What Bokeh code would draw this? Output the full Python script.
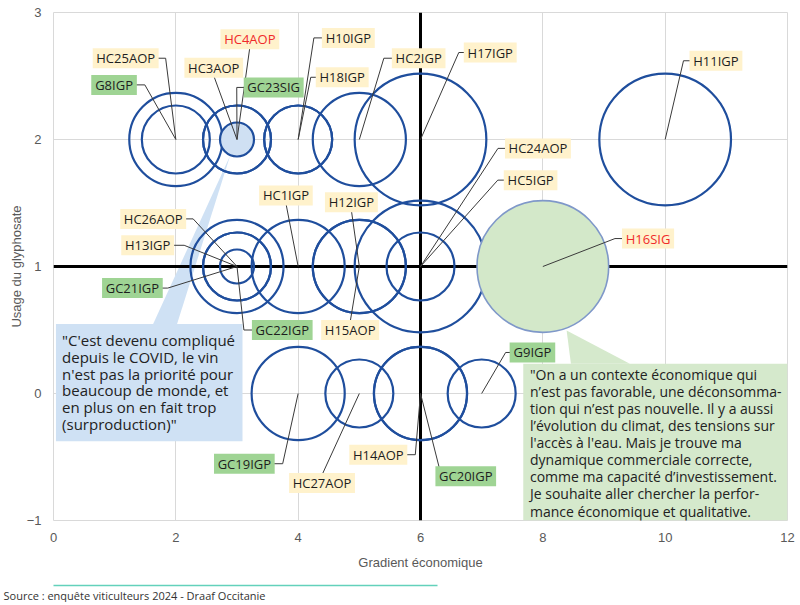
import math
from bokeh.plotting import figure
from bokeh.models import FixedTicker, ColumnDataSource, Range1d, LinearAxis, Title
from bokeh.core.properties import value
from bokeh.embed import file_html
from bokeh.resources import INLINE

# ---------------- data ----------------
names = ["HC25AOP", "G8IGP", "HC3AOP", "HC4AOP", "GC23SIG", "H10IGP", "H18IGP", "HC2IGP", "H17IGP", "H11IGP",
         "HC26AOP", "H13IGP", "GC21IGP", "GC22IGP", "HC1IGP", "H12IGP", "H15AOP", "HC24AOP", "HC5IGP", "H16SIG",
         "GC19IGP", "HC27AOP", "H14AOP", "GC20IGP", "G9IGP"]
gradient = [2, 2, 3, 3, 3, 4, 4, 5, 6, 10,
            3, 3, 3, 3, 4, 5, 5, 6, 6, 8,
            4, 5, 6, 6, 7]
glyphosate = [2, 2, 2, 2, 2, 2, 2, 2, 2, 2,
              1, 1, 1, 1, 1, 1, 1, 1, 1, 1,
              0, 0, 0, 0, 0]
bubble = [7.5, 4, 4, 1, 4, 4, 4, 7.5, 15, 15,
          7.5, 4, 1, 4, 7.5, 7.5, 7.5, 15, 4, 15,
          7.5, 4, 7.5, 7.5, 4]
highlight_blue = ["HC4AOP"]
highlight_green = ["H16SIG"]
x_ticks = [0, 2, 4, 6, 8, 10, 12]
y_ticks = [-1, 0, 1, 2, 3]
cross_x, cross_y = 6, 1

# label layout (annotation positions, data coords) and leader style
label_x = [1.18, 0.99, 2.62, 3.21, 3.60, 4.82, 4.72, 5.97, 7.14, 10.83,
           1.63, 1.54, 1.29, 3.74, 3.80, 4.87, 4.85, 7.92, 7.80, 9.72,
           3.12, 4.39, 5.31, 6.74, 7.83]
label_y = [2.64, 2.43, 2.565, 2.79, 2.41, 2.80, 2.49, 2.64, 2.685, 2.62,
           1.375, 1.167, 0.83, 0.50, 1.56, 1.505, 0.50, 1.93, 1.68, 1.22,
           -0.553, -0.704, -0.482, -0.651, 0.323]
anchor = ["R", "R", "B", "B", "L", "L", "L", "L", "L", "L",
          "R", "R", "R", "L", "B", "B", "T", "L", "L", "L",
          "R", "T", "R", "T", "L"]
stub = [7, 8, 0, 0, 7, 8, 5, 8, 5, 6,
        7, 10, 5, 8, 0, 0, 0, 7, 6, 7,
        8, 0, 8, 0, 4]
frac = [0] * 25
frac[names.index("GC20IGP")] = -0.87

quote_blue = ("\"C'est devenu compliqué\ndepuis le COVID, le vin\nn'est pas la priorité pour\n"
              "beaucoup de monde, et\nen plus on en fait trop\n(surproduction)\"")
quote_green = ("\"On a un contexte économique  qui\nn’est pas favorable,  une déconsomma-\n"
               "tion qui n’est pas nouvelle.  Il y a aussi\nl’évolution du climat, des tensions  sur\n"
               "l'accès  à l'eau. Mais  je trouve ma\ndynamique commerciale correcte,\n"
               "comme ma capacité d’investissement.\nJe souhaite aller chercher la perfor-\n"
               "mance économique et qualitative.")
source_text = "Source : enquête viticulteurs 2024 - Draaf Occitanie"

# ---------------- layout ----------------
FW, FH = 734, 508
ML, MT, MR, MB = 53, 12, 12, 80
X0, X1, Y0, Y1 = 0, 12, -1, 3
sx = FW / (X1 - X0)
sy = FH / (Y1 - Y0)

p = figure(frame_width=FW, frame_height=FH, x_range=Range1d(X0, X1), y_range=Range1d(Y0, Y1),
           output_backend="svg", toolbar_location=None,
           min_border_left=ML, min_border_right=MR, min_border_top=MT, min_border_bottom=MB,
           background_fill_color="white", border_fill_color="white")
p.outline_line_color = "#d9d9d9"
p.grid.grid_line_color = "#d9d9d9"
p.xaxis.ticker = FixedTicker(ticks=x_ticks)
p.yaxis.ticker = FixedTicker(ticks=y_ticks)
for ax in (p.xaxis[0], p.yaxis[0]):
    ax.axis_line_color = None
    ax.major_tick_line_color = None
    ax.minor_tick_line_color = None
    ax.major_tick_out = 0
    ax.major_tick_in = 0
    ax.major_label_text_font = "Liberation Sans"
    ax.major_label_text_font_size = "13px"
    ax.major_label_text_color = "#595959"
    ax.axis_label_text_font = "Liberation Sans"
    ax.axis_label_text_font_size = "13px"
    ax.axis_label_text_font_style = "normal"
    ax.axis_label_text_color = "#595959"
p.xaxis.axis_label = "Gradient économique"
p.yaxis.axis_label = "Usage du glyphosate"
p.xaxis.major_label_standoff = 12
p.xaxis.axis_label_standoff = 10
p.yaxis.major_label_standoff = 12
p.yaxis.axis_label_standoff = 0

# ---------------- callouts (below marks) ----------------
blue_box = dict(left=0.04, right=3.09, top=0.548, bottom=-0.375)
green_box = dict(left=7.68, right=12.0, top=0.234, bottom=-1.0)
p.quad(left=[blue_box["left"]], right=[blue_box["right"]], top=[blue_box["top"]], bottom=[blue_box["bottom"]],
       fill_color="#cfe1f4", line_color=None)
p.patch([2.887, 1.629, 2.02], [1.872, 0.548, 0.548], fill_color="#cfe1f4", line_color=None)
p.quad(left=[green_box["left"]], right=[green_box["right"]], top=[green_box["top"]], bottom=[green_box["bottom"]],
       fill_color="#d5e9cc", line_color=None)
p.patch([8.389, 8.459, 9.423], [0.496, 0.234, 0.234], fill_color="#d5e9cc", line_color=None)

# axis crossing lines
p.vspan(x=[cross_x], line_color="black", line_width=3)
p.hspan(y=[cross_y], line_color="black", line_width=3)

# ---------------- bubbles ----------------
diam = [34 * math.sqrt(b) for b in bubble]
order = sorted(range(len(names)), key=lambda i: -bubble[i])
plain = [i for i in order if names[i] not in highlight_blue + highlight_green]
p.scatter(x=[gradient[i] for i in plain], y=[glyphosate[i] for i in plain], size=[diam[i] for i in plain],
          marker="circle", fill_color=None, line_color="#1f4e9d", line_width=2.2)
for grp, fc, lc, lw in ((highlight_green, "#d3e8c9", "#7f98c9", 1.6), (highlight_blue, "#cfe0f3", "#1f4e9d", 2.2)):
    idx = [names.index(n) for n in grp]
    p.scatter(x=[gradient[i] for i in idx], y=[glyphosate[i] for i in idx], size=[diam[i] for i in idx],
              marker="circle", fill_color=fc, line_color=lc, line_width=lw)

# ---------------- labels & leaders ----------------
W12 = {"A": 1296, "C": 1292, "G": 1491, "H": 1511, "I": 571, "O": 1599, "P": 1251, "S": 1124}
LFS = 13
def text_w(s, fs=LFS):
    return sum(W12.get(c, 1171) for c in s) / 2048 * fs * 0.965

box_w = [text_w(n) + 9 for n in names]
box_h = 20
xs, ys = [], []
for i, n in enumerate(names):
    cx, cy = label_x[i], label_y[i]
    px, py = gradient[i], glyphosate[i]
    hw = box_w[i] / 2 / sx
    hh = box_h / 2 / sy
    st = stub[i] / sx
    a = anchor[i]
    if a == "R":
        xs.append([cx + hw - 2 / sx, cx + hw + st, px]); ys.append([cy, cy, py])
    elif a == "L":
        xs.append([cx - hw + 2 / sx, cx - hw - st, px]); ys.append([cy, cy, py])
    elif a == "T":
        x0 = cx + frac[i] * hw
        xs.append([x0, px]); ys.append([cy + hh - 2 / sy, py])
    else:
        x0 = cx + frac[i] * hw
        xs.append([x0, px]); ys.append([cy - hh + 2 / sy, py])
p.multi_line(xs=xs, ys=ys, line_color="#3a3a3a", line_width=1)

lab = ColumnDataSource(dict(
    x=label_x, y=label_y, text=names, w=box_w,
    bg=["#9fd494" if n.startswith("G") else "#fff2cc" for n in names],
    tc=["#f02a2a" if n in highlight_blue + highlight_green else "#1e1e1e" for n in names],
))
p.rect(x="x", y="y", width="w", height=box_h, width_units="screen", height_units="screen",
       fill_color="bg", line_color=None, source=lab)
p.text(x="x", y="y", text="text", source=lab, text_align="center", text_baseline="middle",
       text_font=value("Open Sans"), text_font_size=f"{LFS}px", text_color="tc")

# callout texts
p.text(x=[0.14], y=[0.502], text=[quote_blue], text_align="left", text_baseline="top",
       text_font=value("Open Sans"), text_font_size="15px", text_color="#222222", text_line_height=0.846)
p.text(x=[7.79], y=[0.226], text=[quote_green], text_align="left", text_baseline="top",
       text_font=value("Open Sans"), text_font_size="14px", text_color="#222222", text_line_height=0.9)

# ---------------- footer (below panels) ----------------
p.add_layout(Title(text=" ", text_font_size="10px", standoff=0), "below")
rule_start = X0 - ML / sx
rule_end = X0 + (437 - ML) / sx
rule = LinearAxis(ticker=FixedTicker(ticks=[]), bounds=(rule_start, rule_end),
                  axis_line_color="#63d1bb", axis_line_width=1.5,
                  major_tick_line_color=None, minor_tick_line_color=None,
                  major_label_text_font_size="0px")
p.add_layout(rule, "below")
p.add_layout(Title(text=source_text, align="left", offset=-(ML - 3), standoff=0,
                   text_font="Open Sans", text_font_size="11px", text_font_style="normal",
                   text_color="#333333"), "below")

open("out.html", "w").write(file_html(p, INLINE))
